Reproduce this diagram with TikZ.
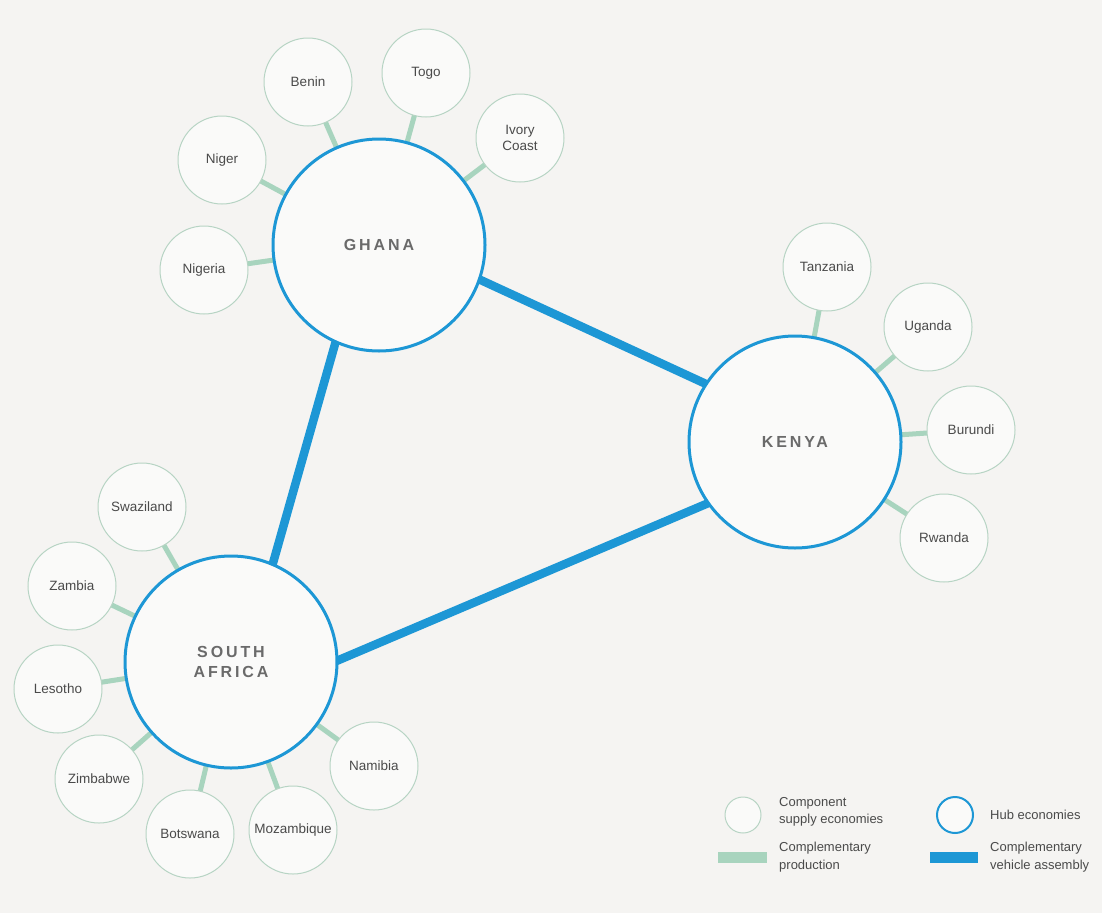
\documentclass[tikz,border=0pt]{standalone}
\usepackage{fontspec}
\setmainfont{Liberation Sans}
\newfontfamily\hubfont[LetterSpace=18]{Liberation Sans}
\definecolor{bgc}{HTML}{F5F4F2}
\definecolor{hubblue}{HTML}{1D97D5}
\definecolor{linkgreen}{HTML}{A8D4BE}
\definecolor{satborder}{HTML}{B7D4C4}
\definecolor{nodefill}{HTML}{FAFAF9}
\definecolor{labelgray}{HTML}{4A4A4A}
\definecolor{hubtext}{HTML}{6A6A6A}
\pgfdeclarelayer{bg}
\pgfdeclarelayer{edges}
\pgfsetlayers{bg,edges,main}
\begin{document}
\begin{tikzpicture}[x=1pt,y=-1pt,
  hub/.style={circle, draw=hubblue, line width=3pt, fill=nodefill, minimum size=212pt, inner sep=0pt,
    font=\hubfont\bfseries\fontsize{16}{20}\selectfont, text=hubtext, align=center},
  sat/.style={circle, draw=satborder, line width=1pt, fill=nodefill, minimum size=88pt, inner sep=0pt,
    font=\fontsize{13.5}{16.5}\selectfont, text=labelgray, align=center},
  link/.style={draw=linkgreen, line width=5pt},
  assembly/.style={draw=hubblue, line width=8.5pt, shorten <=-6pt, shorten >=-6pt},
  legtext/.style={anchor=west, inner sep=0pt, font=\fontsize{13}{17.5}\selectfont, text=labelgray, align=left}]
\begin{pgfonlayer}{bg}
  \fill[bgc] (0,0) rectangle (1102,913);
\end{pgfonlayer}
\useasboundingbox (0,0) rectangle (1102,913);

% hubs
\node[hub] (ghana) at (379,245) {GHANA};
\node[hub] (kenya) at (795,442) {KENYA};
\node[hub] (sa) at (231,662) {SOUTH\\AFRICA};

% Ghana satellites
\node[sat] (benin) at (308,82) {Benin};
\node[sat] (togo) at (426,73) {Togo};
\node[sat] (ivory) at (520,138) {Ivory\\Coast};
\node[sat] (niger) at (222,160) {Niger};
\node[sat] (nigeria) at (204,270) {Nigeria};

% Kenya satellites
\node[sat] (tanzania) at (827,267) {Tanzania};
\node[sat] (uganda) at (928,327) {Uganda};
\node[sat] (burundi) at (971,430) {Burundi};
\node[sat] (rwanda) at (944,538) {Rwanda};

% South Africa satellites
\node[sat] (swaziland) at (142,507) {Swaziland};
\node[sat] (zambia) at (72,586) {Zambia};
\node[sat] (lesotho) at (58,689) {Lesotho};
\node[sat] (zimbabwe) at (99,779) {Zimbabwe};
\node[sat] (botswana) at (190,834) {Botswana};
\node[sat] (mozambique) at (293,830) {Mozambique};
\node[sat] (namibia) at (374,766) {Namibia};

\begin{pgfonlayer}{edges}
  \foreach \s in {benin,togo,ivory,niger,nigeria}
    \path[link] (\s.center) -- (ghana.center);
  \foreach \s in {tanzania,uganda,burundi,rwanda}
    \path[link] (\s.center) -- (kenya.center);
  \foreach \s in {swaziland,zambia,lesotho,zimbabwe,botswana,mozambique,namibia}
    \path[link] (\s.center) -- (sa.center);
  \path[assembly] (ghana.341) -- (kenya.147.7);
  \path[assembly] (ghana.246.7) -- (sa.67.2);
  \path[assembly] (sa.1) -- (kenya.215.8);
\end{pgfonlayer}

% legend
\node[circle, draw=satborder, line width=1pt, fill=nodefill, minimum size=36pt, inner sep=0pt] (legsat) at (743,815) {};
\node[legtext] (legsattext) at (779,812) {Component\\supply economies};
\node[circle, draw=hubblue, line width=2pt, fill=nodefill, minimum size=36pt, inner sep=0pt] (leghub) at (955,815) {};
\node[legtext] (leghubtext) at (990,815) {Hub economies};
\node[fill=linkgreen, minimum width=49pt, minimum height=11pt, inner sep=0pt] (leggreen) at (742,857) {};
\node[legtext] (leggreentext) at (779,857) {Complementary\\production};
\node[fill=hubblue, minimum width=48pt, minimum height=11pt, inner sep=0pt] (legblue) at (954,857) {};
\node[legtext] (legbluetext) at (990,857) {Complementary\\vehicle assembly};
\end{tikzpicture}
\end{document}
